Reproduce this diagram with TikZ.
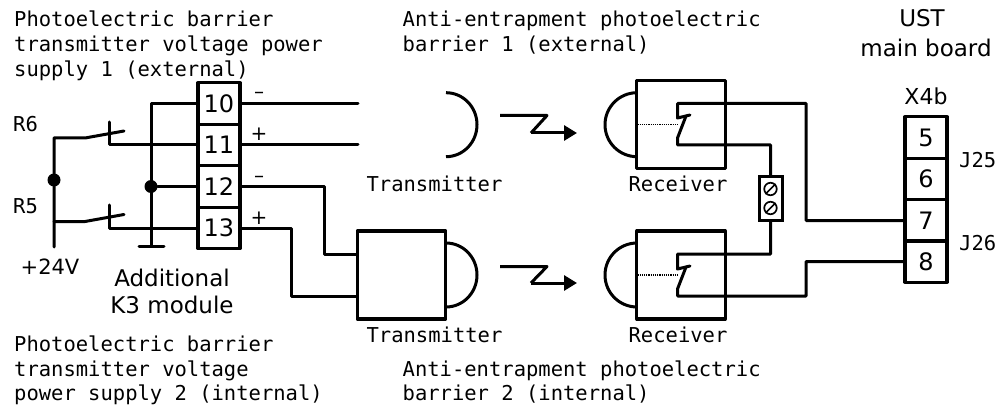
\documentclass[tikz,border=0pt]{standalone}
\usepackage{fontspec}
\setmainfont{DejaVu Sans}
\newfontfamily\monof{DejaVu Sans Mono}
\usetikzlibrary{arrows.meta}
\tikzset{
  wire/.style={line width=3pt,line join=round,line cap=round},
  monotxt/.style={anchor=base west,inner sep=0,font=\monof\fontsize{20.5}{24}\selectfont},
  monoc/.style={anchor=base,inner sep=0,font=\monof\fontsize{20.5}{24}\selectfont},
  sanstxt/.style={anchor=base,inner sep=0,font=\fontsize{23}{27}\selectfont},
  term/.style={draw,line width=3.2pt,line join=round,minimum width=42pt,minimum height=41.4pt,inner sep=0,font=\fontsize{24}{28}\selectfont},
  unit/.style={draw,line width=3.2pt,line join=round,minimum width=88.5pt,minimum height=88pt,inner sep=0},
  dot/.style={circle,fill=black,minimum size=13pt,inner sep=0},
  screw/.style={circle,draw,line width=1.7pt,minimum size=12.5pt,inner sep=0},
  zig/.style={wire,-{Triangle[length=13pt,width=15pt]}},
  sign/.style={inner sep=0,font=\fontsize{20}{24}\selectfont}
}
\begin{document}
\begin{tikzpicture}[x=1pt,y=-1pt]
\useasboundingbox (0,0) rectangle (1002,417);
% terminal blocks
\node[term] (t10) at (219,103.5) {10};
\node[term] (t11) at (219,145) {11};
\node[term] (t12) at (219,186.5) {12};
\node[term] (t13) at (219,228) {13};
\node[term] (t5) at (926,137.5) {5};
\node[term] (t6) at (926,179) {6};
\node[term] (t7) at (926,220.5) {7};
\node[term] (t8) at (926,261.5) {8};
% units
\node[unit] (tx2) at (401.5,275) {};
\node[unit] (rx1) at (681,124.7) {};
\node[unit] (rx2) at (681,275) {};
\node[draw,line width=3pt,minimum width=23pt,minimum height=43pt,inner sep=0] (res) at (770.5,198.5) {};
\node[screw] (s1) at (770.5,189) {};
\node[screw] (s2) at (770.5,208) {};
\draw[line width=1.7pt] (s1.south west) -- (s1.north east);
\draw[line width=1.7pt] (s2.south west) -- (s2.north east);
% domes
\coordinate (d0) at (446,92.7);
\draw[wire,line cap=butt] (d0) arc[start angle=-90,end angle=90,x radius=31,y radius=32];
\coordinate (d1) at (446,243);
\draw[wire,line cap=butt] (d1) arc[start angle=-90,end angle=90,x radius=31,y radius=32];
\coordinate (d2) at (637,92.7);
\draw[wire,line cap=butt] (d2) arc[start angle=270,end angle=90,x radius=32,y radius=32];
\coordinate (d3) at (637,243);
\draw[wire,line cap=butt] (d3) arc[start angle=270,end angle=90,x radius=32,y radius=32];
% left power side
\coordinate (gnd) at (151,246);
\coordinate (vcc) at (54,247);
\coordinate (r6a) at (54,138);
\coordinate (r5a) at (54,221.5);
\node[dot] (j1) at (54,180) {};
\node[dot] (j2) at (151,186.5) {};
\draw[wire] (vcc) -- (r6a) -- (85,138) -- (124,131);
\draw[wire] (r5a) -- (85,221.5) -- (124,214.5);
\draw[wire] (109.5,122) -- (109.5,145) -- (t11.west);
\draw[wire] (109.5,205) -- (109.5,228) -- (t13.west);
\draw[wire] (t10.west) -- (151,103.5) -- (gnd);
\draw[wire] (139,246) -- (164,246);
\draw[wire] (j2) -- (t12.west);
% to transmitters
\coordinate (w10) at (358,103.5);
\coordinate (w11) at (358,145);
\draw[wire] (t10.east) -- (w10);
\draw[wire] (t11.east) -- (w11);
\draw[wire] (t12.east) -- (324,186.5) -- (324,254) -- (tx2.west |- 0,254);
\draw[wire] (t13.east) -- (291,228) -- (291,296) -- (tx2.west |- 0,296);
% light beams
\coordinate (b1a) at (500,115.5);
\coordinate (b1b) at (577,133);
\coordinate (b2a) at (500,266.5);
\coordinate (b2b) at (577,283);
\draw[wire,line cap=butt] (b1a) -- (547,115.5) -- (531,133);
\draw[zig,line cap=butt] (531,133) -- (b1b);
\draw[wire,line cap=butt] (b2a) -- (547,266.5) -- (531,283);
\draw[zig,line cap=butt] (531,283) -- (b2b);
% receiver 1 contact
\draw[line width=1.2pt,densely dotted] (rx1.west) -- (678,124.7);
\draw[wire] (t7.west) -- (806,220.5) -- (806,103.5) -- (677.5,103.5) -- (677.5,118) -- (690,115);
\draw[wire] (686,116) -- (677.5,138) -- (677.5,145) -- (770.5,145) -- (res.north);
% receiver 2 contact
\draw[line width=1.2pt,densely dotted] (rx2.west) -- (678,275);
\draw[wire] (res.south) -- (770.5,254) -- (677.5,254) -- (677.5,269) -- (690,266);
\draw[wire] (686,267) -- (677.5,289) -- (677.5,296) -- (806,296) -- (806,261.5) -- (t8.west);
% labels
\node[monotxt] (l1) at (14,27) {Photoelectric barrier};
\node[monotxt] (l2) at (14,52) {transmitter voltage power};
\node[monotxt] (l3) at (14,77) {supply 1 (external)};
\node[monotxt] (l4) at (402.5,27) {Anti-entrapment photoelectric};
\node[monotxt] (l5) at (402.5,52) {barrier 1 (external)};
\node[monotxt] (l6) at (14,351) {Photoelectric barrier};
\node[monotxt] (l7) at (14,376) {transmitter voltage};
\node[monotxt] (l8) at (14,400.5) {power supply 2 (internal)};
\node[monotxt] (l9) at (402.5,376) {Anti-entrapment photoelectric};
\node[monotxt] (l10) at (402.5,400.5) {barrier 2 (internal)};
\node[monoc] (l11) at (434.5,192) {Transmitter};
\node[monoc] (l12) at (434.5,342) {Transmitter};
\node[monoc] (l13) at (678,192) {Receiver};
\node[monoc] (l14) at (678,342) {Receiver};
\node[monotxt] (r6) at (13,131.5) {R6};
\node[monotxt] (r5) at (13,213) {R5};
\node[sanstxt,font=\fontsize{21}{25}\selectfont] (v) at (50,274) {+24V};
\node[sanstxt] (a1) at (172,286.5) {Additional};
\node[sanstxt] (a2) at (172,313) {K3 module};
\node[sanstxt] (u1) at (922,27) {UST};
\node[sanstxt] (u2) at (926,57) {main board};
\node[sanstxt,font=\fontsize{22}{26}\selectfont] (x) at (926,105) {X4b};
\node[monotxt] (j25) at (959,167.5) {J25};
\node[monotxt] (j26) at (959,250) {J26};
\node[sign] (m1) at (259,95) {–};
\node[sign] (p1) at (259,134) {+};
\node[sign] (m2) at (259,179.5) {–};
\node[sign] (p2) at (259,218.5) {+};
\end{tikzpicture}
\end{document}
